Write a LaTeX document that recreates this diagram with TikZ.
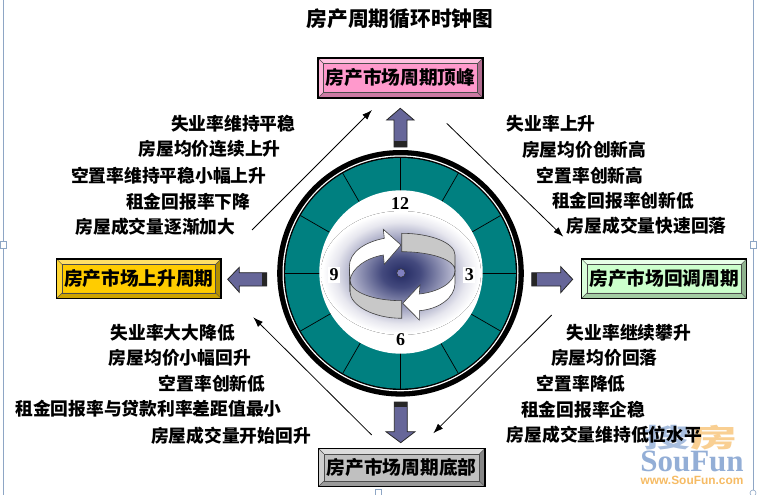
\documentclass[tikz,border=0pt]{standalone}
\usepackage{fontspec}
\setmainfont{Liberation Serif}
\newfontfamily\cjk{Noto Sans CJK SC}
\newfontfamily\wsans{Liberation Sans}
\usetikzlibrary{arrows.meta}

\definecolor{pinkbase}{HTML}{FF99CC}
\definecolor{pinktop}{HTML}{FFC2E0}
\definecolor{pinkleft}{HTML}{FFB3D9}
\definecolor{pinkbot}{HTML}{CC7AA3}
\definecolor{pinkright}{HTML}{B36B8F}
\definecolor{goldbase}{HTML}{FFCC00}
\definecolor{goldtop}{HTML}{FFE066}
\definecolor{goldleft}{HTML}{FFD633}
\definecolor{goldbot}{HTML}{CCA300}
\definecolor{goldright}{HTML}{B38F00}
\definecolor{greenbase}{HTML}{CCFFCC}
\definecolor{greentop}{HTML}{E8FFE8}
\definecolor{greenleft}{HTML}{DAFFDA}
\definecolor{greenbot}{HTML}{A3CCA3}
\definecolor{greenright}{HTML}{8FB38F}
\definecolor{greybase}{HTML}{C0C0C0}
\definecolor{greytop}{HTML}{DCDCDC}
\definecolor{greyleft}{HTML}{CFCFCF}
\definecolor{greybot}{HTML}{9A9A9A}
\definecolor{greyright}{HTML}{868686}
\definecolor{clockteal}{HTML}{008080}
\definecolor{arrowblue}{HTML}{666699}
\definecolor{ribgrey}{HTML}{C8C8C8}
\definecolor{dotblue}{HTML}{8080C0}
\definecolor{glowA}{HTML}{232A62}
\definecolor{glowB}{HTML}{444A7E}
\definecolor{glowC}{HTML}{A8AAC5}
\definecolor{glowD}{HTML}{E6E6EE}
\definecolor{frameblue}{HTML}{8EA6C5}
\definecolor{wmblue}{HTML}{6F93C9}
\definecolor{wmorange}{HTML}{F5B04A}

\pgfdeclareradialshading{clockglow}{\pgfpointorigin}{color(0bp)=(glowA); color(6bp)=(glowB); color(15bp)=(glowC); color(20.5bp)=(glowD); color(24.5bp)=(white); color(50bp)=(white)}

\tikzset{
  lst/.style={font=\cjk\bfseries\fontsize{17.75}{20}\selectfont, inner sep=0pt, anchor=west},
  boxtxt/.style={font=\cjk\bfseries\fontsize{18.7}{20}\selectfont, inner sep=0pt},
  titletxt/.style={font=\cjk\bfseries\fontsize{20.7}{22}\selectfont, inner sep=0pt},
  num/.style={font=\bfseries\fontsize{18}{20}\selectfont, fill=white, inner sep=1.5pt},
  thinarrow/.style={draw=black, line width=0.8pt, -{Latex[length=10pt,width=7pt]}},
  blockarrow/.style={fill=arrowblue, draw=black!85, line width=0.8pt},
  capfill/.style={fill=black!85},
  ribbon/.style={draw=black!75, line width=0.6pt},
  spoke/.style={draw=black, line width=0.7pt},
  handle/.style={fill=white, draw=frameblue, line width=0.6pt},
}

\newcommand\bevbox[7]{%
  \fill[#6base] (#2,#3) rectangle (#4,#5);
  \fill[#6top] (#2,#3) -- (#4,#3) -- (#4-5.5,#3+5.5) -- (#2+5.5,#3+5.5) -- cycle;
  \fill[#6bot] (#2,#5) -- (#4,#5) -- (#4-5.5,#5-5.5) -- (#2+5.5,#5-5.5) -- cycle;
  \fill[#6left] (#2,#3) -- (#2+5.5,#3+5.5) -- (#2+5.5,#5-5.5) -- (#2,#5) -- cycle;
  \fill[#6right] (#4,#3) -- (#4-5.5,#3+5.5) -- (#4-5.5,#5-5.5) -- (#4,#5) -- cycle;
  \draw[black!70, line width=0.4pt] (#2+5.5,#3+5.5) rectangle (#4-5.5,#5-5.5);
  \draw[black!70, line width=0.4pt] (#2,#3) -- (#2+5.5,#3+5.5) (#4,#3) -- (#4-5.5,#3+5.5)
     (#2,#5) -- (#2+5.5,#5-5.5) (#4,#5) -- (#4-5.5,#5-5.5);
  \draw[black, line width=1.2pt] (#2,#3) rectangle (#4,#5);
  \node[boxtxt] (#1) at ({(#2+#4)/2},{(#3+#5)/2-0.5}) {#7};
}

\begin{document}
\begin{tikzpicture}[x=1pt,y=-1pt]
\useasboundingbox (0,0) rectangle (758,495);
\fill[white] (0,0) rectangle (758,495);

% frame of the canvas
\draw[frameblue, line width=1pt] (3,0) -- (3,495);
\draw[frameblue, line width=1pt] (753,0) -- (753,495);
\draw[handle] (0,241.5) rectangle (6,248.5);
\draw[handle] (750,241.5) rectangle (756,248.5);
\draw[handle] (375,489) rectangle (381,496);
\draw[handle] (753,493) circle[radius=3];

% watermark (behind the texts)
\node[opacity=0.6, inner sep=0pt, font=\cjk\bfseries\fontsize{26}{26}\selectfont] (wm1) at (690,438)
  {\scalebox{1.8}[1]{\textcolor{wmblue}{搜}\textcolor{wmorange}{房}}};
\node[opacity=0.75, inner sep=0pt, text=wmblue, font=\bfseries\fontsize{31}{31}\selectfont] (wm2) at (692,461) {SouFun};
\node[opacity=0.85, inner sep=0pt, text=wmorange, font=\wsans\bfseries\fontsize{11.9}{12}\selectfont] (wm3) at (692,480) {www.SouFun.com};

% title
\node[titletxt] (title) at (400,18.5) {房产周期循环时钟图};

% four boxes
\bevbox{peak}{318}{58}{483}{98}{pink}{房产市场周期顶峰}
\bevbox{rise}{56.7}{259}{221}{298.3}{gold}{房产市场上升周期}
\bevbox{fall}{581.7}{259}{746.7}{298.3}{green}{房产市场回调周期}
\bevbox{bottom}{318.3}{448.3}{485}{486.7}{grey}{房产市场周期底部}

% clock
\coordinate (c) at (400.5,273.3);
\coordinate (c2) at (401,272);
\fill[black] (c) circle[radius=123.3];
\fill[white] (c) circle[radius=118];
\fill[black] (c) circle[radius=116.7];
\fill[clockteal] (c) circle[radius=115.3];
\foreach \a in {0,30,...,330}
  \draw[spoke, shift={(c)}] (\a:80) -- (\a:115.5);
\fill[white] (c2) circle[radius=81.7];
\fill[shading=clockglow] (401,273) ellipse[x radius=80, y radius=62];

% numbers
\node[num] (n12) at (400,203.3) {12};
\node[num] (n3) at (469.3,275) {3};
\node[num] (n6) at (400.7,339.3) {6};
\node[num] (n9) at (334,275) {9};

% circular ribbon arrows
\filldraw[ribbon, fill=ribgrey] (401.7,233.3) .. controls (431.1,233.3) and (455,243) .. (455,255)
   -- (455,270) .. controls (455,259.9) and (431.1,251.7) .. (401.7,251.7) -- cycle;
\filldraw[ribbon, fill=ribgrey] (350,280) .. controls (350,292) and (373,300.7) .. (401.7,300.7)
   -- (401.7,318.3) .. controls (373,318.3) and (350,305) .. (350,291.7) -- cycle;
\filldraw[ribbon, fill=white] (349.3,266.7) .. controls (349.3,252) and (365,242) .. (384.3,238.3)
   -- (383.3,229.3) -- (401,245) -- (384.3,264.3) -- (383.3,255)
   .. controls (366,258) and (352,268) .. (350,280) -- cycle;
\filldraw[ribbon, fill=white] (455,270) .. controls (455,283) and (438,292) .. (419.3,294)
   -- (420,285) -- (402.7,303.3) -- (419.3,320) -- (419.3,310.7)
   .. controls (440,309) and (455,297) .. (455,283.3) -- cycle;
\draw[ribbon] (349.3,266.7) -- (350,291.7);
\filldraw[fill=dotblue, draw=black!80, line width=0.6pt] (401,273) circle[radius=4.3];

% block arrows
\filldraw[blockarrow] (394,147) -- (394,120) -- (386.7,120) -- (400.3,108.3) -- (414,120) -- (407,120) -- (407,147) -- cycle;
\fill[capfill] (394,141) rectangle (407,147);
\filldraw[blockarrow] (394.3,402) -- (394.3,431.7) -- (386,431.7) -- (400.7,442.7) -- (415,431.7) -- (407.3,431.7) -- (407.3,402) -- cycle;
\fill[capfill] (394.3,402) rectangle (407.3,407);
\filldraw[blockarrow] (266.7,272.7) -- (239.3,272.7) -- (239.3,267.3) -- (227.7,279.3) -- (239.3,292.3) -- (239.3,286) -- (266.7,286) -- cycle;
\fill[capfill] (261.7,272.7) rectangle (266.7,286);
\filldraw[blockarrow] (531.7,272.7) -- (560.7,272.7) -- (560.7,266.7) -- (572.7,279.3) -- (560.7,292.7) -- (560.7,286) -- (531.7,286) -- cycle;
\fill[capfill] (531.7,272.7) rectangle (537.3,286);

% diagonal connectors
\coordinate (ul1) at (252,230);   \coordinate (ul2) at (372,110);
\coordinate (ur1) at (446.7,123.3); \coordinate (ur2) at (563.3,236.7);
\coordinate (lr1) at (551.7,315); \coordinate (lr2) at (433.3,433.3);
\coordinate (ll1) at (371.7,435); \coordinate (ll2) at (253.3,317.3);
\draw[thinarrow] (ul1) -- (ul2);
\draw[thinarrow] (ur1) -- (ur2);
\draw[thinarrow] (lr1) -- (lr2);
\draw[thinarrow] (ll1) -- (ll2);

% upper-left list
\node[lst] (ul-a) at (171,124) {失业率维持平稳};
\node[lst] (ul-b) at (138.5,149.3) {房屋均价连续上升};
\node[lst] (ul-c) at (71,176) {空置率维持平稳小幅上升};
\node[lst] (ul-d) at (126,201.7) {租金回报率下降};
\node[lst] (ul-e) at (75.3,226.7) {房屋成交量逐渐加大};

% upper-right list
\node[lst] (ur-a) at (506.6,124) {失业率上升};
\node[lst] (ur-b) at (522,150) {房屋均价创新高};
\node[lst] (ur-c) at (536.6,176) {空置率创新高};
\node[lst] (ur-d) at (552,200.5) {租金回报率创新低};
\node[lst] (ur-e) at (566.6,226) {房屋成交量快速回落};

% lower-left list
\node[lst] (ll-a) at (110.3,332.7) {失业率大大降低};
\node[lst] (ll-b) at (108.6,358.3) {房屋均价小幅回升};
\node[lst] (ll-c) at (158.6,384) {空置率创新低};
\node[lst] (ll-d) at (15.3,408.3) {租金回报率与贷款利率差距值最小};
\node[lst] (ll-e) at (151,436) {房屋成交量开始回升};

% lower-right list
\node[lst] (lr-a) at (566.6,332.7) {失业率继续攀升};
\node[lst] (lr-b) at (551,358.3) {房屋均价回落};
\node[lst] (lr-c) at (536.6,384) {空置率降低};
\node[lst] (lr-d) at (521,409.3) {租金回报率企稳};
\node[lst] (lr-e) at (506.6,435) {房屋成交量维持低位水平};
\end{tikzpicture}
\end{document}
